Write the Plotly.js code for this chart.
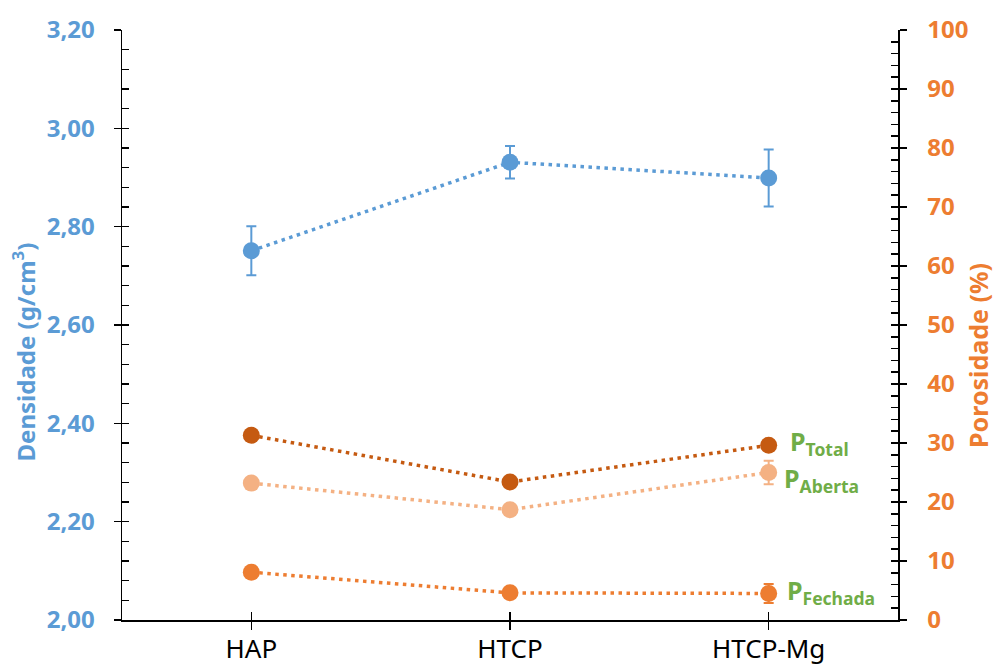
<!DOCTYPE html>
<html>
<head>
<meta charset="utf-8">
<script src="https://cdn.plot.ly/plotly-3.0.1.min.js"></script>
<style>html,body{margin:0;padding:0;background:#fff;}#chart{width:996px;height:670px;}</style>
</head>
<body>
<div id="chart"></div>
<script>
const categories = ['HAP', 'HTCP', 'HTCP-Mg'];
const densidade = [2.751, 2.931, 2.899];
const densidadeErr = [0.050, 0.033, 0.058];
const pTotal = [31.3, 23.4, 29.6];
const pTotalErr = [0.4, 0.4, 0.4];
const pAberta = [23.2, 18.7, 25.0];
const pAbertaErr = [0.4, 0.4, 2.0];
const pFechada = [8.1, 4.6, 4.5];
const pFechadaErr = [0.4, 0.4, 1.6];
const leftTicks = [2.0, 2.2, 2.4, 2.6, 2.8, 3.0, 3.2];
const rightTicks = [0, 10, 20, 30, 40, 50, 60, 70, 80, 90, 100];

const BLUE = '#5B9BD5', DARK = '#C55A11', LIGHT = '#F4B183', MID = '#ED7D31', GREEN = '#70AD47';
const dash = '3.5px,4.5px';

function series(y, err, color, yaxis) {
  return {
    x: categories, y: y, type: 'scatter', mode: 'lines+markers', yaxis: yaxis,
    line: {color: color, width: 3.5, dash: dash},
    marker: {color: color, size: 17},
    error_y: {type: 'data', array: err, visible: true, color: color, thickness: 2, width: 5},
    hoverinfo: 'skip', showlegend: false
  };
}

// empty helper traces so the overlay tick axes get drawn
function helper(xa, ya) {
  return {x: [], y: [], type: 'scatter', mode: 'markers', xaxis: xa, yaxis: ya, hoverinfo: 'skip', showlegend: false};
}

const traces = [
  series(densidade, densidadeErr, BLUE, 'y'),
  series(pTotal, pTotalErr, DARK, 'y2'),
  series(pAberta, pAbertaErr, LIGHT, 'y2'),
  series(pFechada, pFechadaErr, MID, 'y2'),
  helper('x', 'y3'),
  helper('x', 'y4'),
  helper('x2', 'y')
];

const FONT = 'Noto Sans, sans-serif';
const tickFontL = {family: FONT, size: 24, color: BLUE, weight: 'bold'};
const tickFontR = {family: FONT, size: 24, color: MID, weight: 'bold'};

const layout = {
  width: 996, height: 670,
  margin: {l: 122, r: 98, t: 30, b: 50},
  paper_bgcolor: '#fff', plot_bgcolor: '#fff',
  separators: ',.',
  showlegend: false,
  xaxis: {
    type: 'category', range: [-0.5, 2.5],
    showline: true, linecolor: '#000', linewidth: 1.5,
    ticks: 'outside', ticklen: 8, tickwidth: 1.5, tickcolor: '#000',
    showgrid: false, zeroline: false,
    tickfont: {family: FONT, size: 26, color: '#000'},
    ticklabelstandoff: -3
  },
  xaxis2: {
    overlaying: 'x', anchor: 'y', side: 'bottom', type: 'linear', range: [-0.5, 2.5],
    tickvals: [0, 1, 2], showticklabels: false,
    ticks: 'inside', ticklen: 8, tickwidth: 1.5, tickcolor: '#000',
    showgrid: false, zeroline: false, showline: false
  },
  yaxis: {
    range: [2.0, 3.2], tickvals: leftTicks, tickformat: '.2f',
    showline: true, linecolor: '#000', linewidth: 1.5,
    ticks: 'outside', ticklen: 7, tickwidth: 1.5, tickcolor: '#000',
    showgrid: false, zeroline: false,
    tickfont: tickFontL, ticklabelstandoff: 14
  },
  yaxis3: {
    overlaying: 'y', side: 'left', anchor: 'x', range: [2.0, 3.2], dtick: 0.04, tick0: 2.0,
    showticklabels: false, ticks: 'inside', ticklen: 7, tickwidth: 1.5, tickcolor: '#000',
    showgrid: false, zeroline: false, showline: false
  },
  yaxis2: {
    overlaying: 'y', side: 'right', anchor: 'x', range: [0, 100], tickvals: rightTicks,
    showline: true, linecolor: '#000', linewidth: 1.5,
    ticks: 'outside', ticklen: 7, tickwidth: 1.5, tickcolor: '#000',
    showgrid: false, zeroline: false,
    tickfont: tickFontR, ticklabelstandoff: 16
  },
  yaxis4: {
    overlaying: 'y', side: 'right', anchor: 'x', range: [0, 100], dtick: 2, tick0: 0,
    showticklabels: false, ticks: 'inside', ticklen: 7, tickwidth: 1.5, tickcolor: '#000',
    showgrid: false, zeroline: false, showline: false
  },
  annotations: [
    {text: 'Densidade (g/cm<sup>3</sup>)', xref: 'paper', yref: 'paper', x: -0.127, y: (620 - 352) / 590, xanchor: 'center', yanchor: 'middle', textangle: -90, showarrow: false, borderpad: 0,
     font: {family: FONT, size: 24, color: BLUE, weight: 'bold'}},
    {text: 'Porosidade (%)', xref: 'paper', yref: 'paper', x: 1.103, y: (620 - 355) / 590, xanchor: 'center', yanchor: 'middle', textangle: -90, showarrow: false, borderpad: 0,
     font: {family: FONT, size: 25, color: MID, weight: 'bold'}},
    {text: 'P<sub>Total</sub>', xref: 'paper', yref: 'paper', x: 0.858, y: (620 - 442) / 590, xanchor: 'left', yanchor: 'middle', showarrow: false,
     font: {family: FONT, size: 25, color: GREEN, weight: 'bold'}},
    {text: 'P<sub>Aberta</sub>', xref: 'paper', yref: 'paper', x: 0.851, y: (620 - 479) / 590, xanchor: 'left', yanchor: 'middle', showarrow: false,
     font: {family: FONT, size: 25, color: GREEN, weight: 'bold'}},
    {text: 'P<sub>Fechada</sub>', xref: 'paper', yref: 'paper', x: 0.855, y: (620 - 591) / 590, xanchor: 'left', yanchor: 'middle', showarrow: false,
     font: {family: FONT, size: 25, color: GREEN, weight: 'bold'}}
  ]
};

Plotly.newPlot('chart', traces, layout, {staticPlot: true, displayModeBar: false});
</script>
</body>
</html>
